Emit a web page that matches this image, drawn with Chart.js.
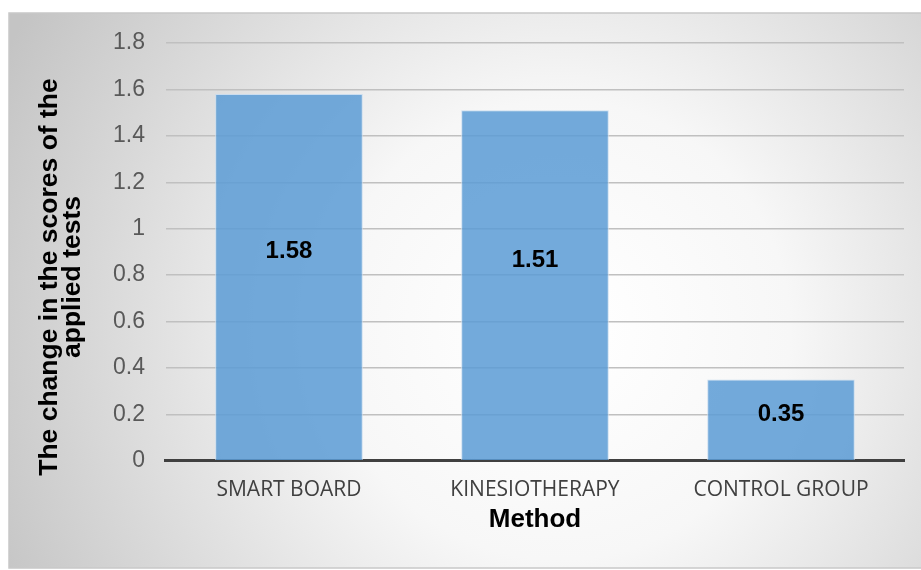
<!DOCTYPE html>
<html>
<head>
<meta charset="utf-8">
<script src="https://cdn.jsdelivr.net/npm/chart.js@4.4.1/dist/chart.umd.min.js"></script>
<style>
  html, body { margin: 0; padding: 0; background: #ffffff; }
  #wrap { width: 921px; height: 570px; }
</style>
</head>
<body>
<div id="wrap"><canvas id="chart" width="921" height="570"></canvas></div>
<script>
const methods = ['SMART BOARD', 'KINESIOTHERAPY', 'CONTROL GROUP'];
const scoreChange = [1.58, 1.51, 0.35];
const yTitleLines = ['The change in the scores of the', 'applied tests'];
const xTitle = 'Method';

// gray gradient box behind the chart
const backdrop = {
    id: 'backdrop',
    beforeDraw(chart) {
        const c = chart.ctx;
        const x0 = 9, y0 = 13, x1 = chart.width, y1 = chart.height - 2;
        c.save();
        const g = c.createRadialGradient(560, 330, 20, 560, 330, 620);
        g.addColorStop(0, '#ffffff');
        g.addColorStop(0.35, '#f7f7f7');
        g.addColorStop(1, '#c4c4c4');
        c.fillStyle = g;
        c.fillRect(x0, y0, x1 - x0, y1 - y0);
        c.strokeStyle = '#c8c8c8';
        c.lineWidth = 1.5;
        c.strokeRect(x0, y0, x1 - x0 + 5, y1 - y0);
        c.restore();
    }
};

// y title drawn by hand: Excel centres it on the whole box, not the plot
const yTitle = {
    id: 'yTitle',
    afterDraw(chart) {
        const c = chart.ctx;
        c.save();
        c.font = 'bold 26.5px "Liberation Sans", Arial, sans-serif';
        c.fillStyle = '#000000';
        c.textAlign = 'center';
        c.textBaseline = 'alphabetic';
        c.translate(0, 277);
        c.rotate(-Math.PI / 2);
        c.fillText(yTitleLines[0], 0, 57);
        c.fillText(yTitleLines[1], 0, 80);
        c.restore();
    }
};

// value labels inside the bars
const barLabels = {
    id: 'barLabels',
    afterDatasetsDraw(chart) {
        const c = chart.ctx;
        const meta = chart.getDatasetMeta(0);
        c.save();
        c.font = 'bold 24px "Liberation Sans", Arial, sans-serif';
        c.fillStyle = '#000000';
        c.textAlign = 'center';
        c.textBaseline = 'middle';
        meta.data.forEach((bar, i) => {
            const y = bar.base - (bar.base - bar.y) * 0.57;
            c.fillText(scoreChange[i].toFixed(2), bar.x, y);
        });
        c.restore();
    }
};

const ctx = document.getElementById('chart');
new Chart(ctx, {
    type: 'bar',
    data: {
        labels: methods,
        datasets: [{
            label: 'Change',
            data: scoreChange,
            backgroundColor: 'rgba(91, 155, 213, 0.85)',
            borderColor: 'rgba(200, 220, 240, 0.9)',
            borderWidth: 1,
            barPercentage: 0.6,
            categoryPercentage: 1.0
        }]
    },
    options: {
        responsive: false,
        animation: false,
        layout: { padding: { left: 92, right: 17, top: 43, bottom: 37 } },
        plugins: {
            legend: { display: false },
            tooltip: { enabled: false }
        },
        scales: {
            x: {
                grid: { display: false, drawTicks: false },
                border: { display: true, color: '#404040', width: 3 },
                ticks: {
                    color: '#404040',
                    padding: 17,
                    font: { family: '"Open Sans", "Noto Sans", sans-serif', size: 21 }
                },
                title: {
                    display: true,
                    text: xTitle,
                    color: '#000000',
                    padding: { top: -13, bottom: 0 },
                    font: { family: '"Liberation Sans", Arial, sans-serif', size: 26, weight: 'bold', lineHeight: 1 }
                }
            },
            y: {
                min: 0,
                max: 1.8,
                ticks: {
                    stepSize: 0.2,
                    color: '#595959',
                    padding: 21,
                    font: { family: '"Liberation Sans", Arial, sans-serif', size: 23 },
                    callback: v => Math.round(v * 10) / 10
                },
                grid: { color: '#c0c0c0', lineWidth: 1.5, drawTicks: false },
                border: { display: false },
                title: { display: false }
            }
        }
    },
    plugins: [backdrop, yTitle, barLabels]
});
</script>
</body>
</html>
